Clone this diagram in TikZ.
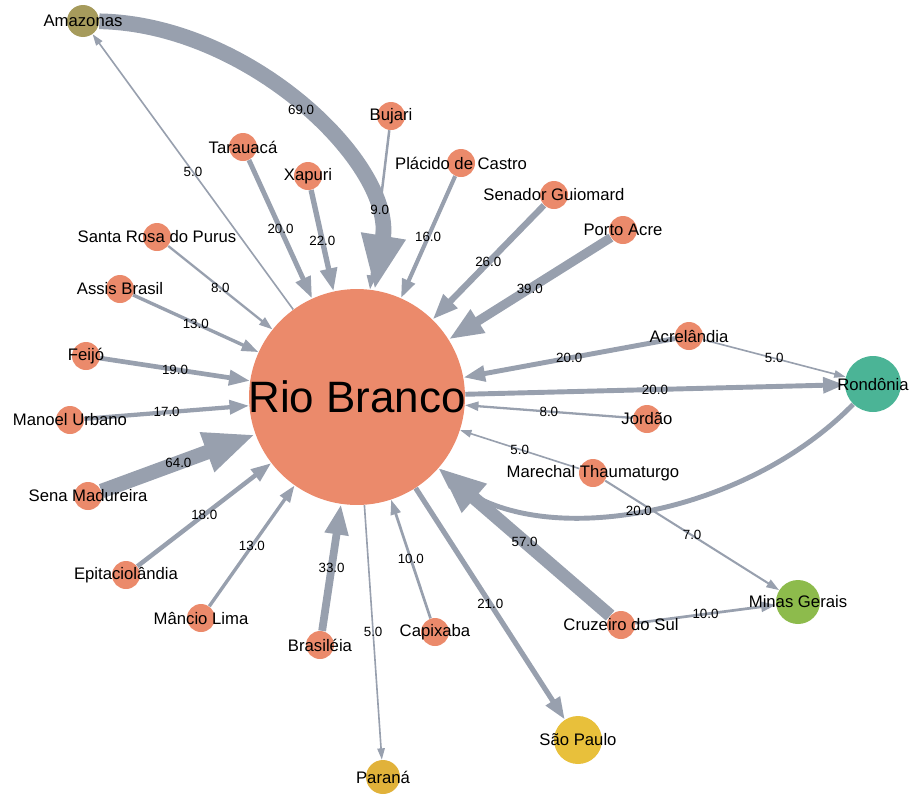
\documentclass[tikz,border=0pt]{standalone}
\usepackage{fontspec}
\setmainfont{Liberation Sans}
\usetikzlibrary{arrows.meta,backgrounds}
\definecolor{cityorange}{HTML}{EB8A6B}
\definecolor{edgegray}{HTML}{98A0AE}
\definecolor{olive}{HTML}{A69B5C}
\definecolor{teal}{HTML}{4BB496}
\definecolor{leaf}{HTML}{8DBB4C}
\definecolor{gold}{HTML}{E8C03B}
\definecolor{amber}{HTML}{E1B23A}

\begin{document}
\begin{tikzpicture}[x=0.02cm,y=-0.02cm,
  city/.style={circle,fill=#1,inner sep=0pt,minimum size=0.56cm},
  city/.default=cityorange,
  flow/.style={draw=edgegray,line width=0.3pt+0.125pt*#1,
    -{Triangle[length=3.6pt 3.1,width=2pt 2.4]}},
  wt/.style={midway,font=\fontsize{7.6}{9}\selectfont,inner sep=1pt},
  every label/.style={font=\fontsize{9.5}{11}\selectfont,inner sep=0pt}]
\useasboundingbox (0,0) rectangle (915,795);

\node[city,minimum size=4.32cm,label={[font=\fontsize{25}{30}\selectfont]center:Rio Branco}] (rb) at (357,397) {};

\node[city=olive,minimum size=0.64cm,label=center:Amazonas] (amazonas) at (83,21) {};
\node[city=teal,minimum size=1.12cm,label=center:Rondônia] (rondonia) at (873,384) {};
\node[city=leaf,minimum size=0.88cm,label=center:Minas Gerais] (minas) at (798,602) {};
\node[city=gold,minimum size=0.96cm,label=center:São Paulo] (saopaulo) at (578,740) {};
\node[city=amber,minimum size=0.68cm,label=center:Paraná] (parana) at (383,777) {};

\node[city,label=center:Bujari] (bujari) at (391,116) {};
\node[city,label=center:Tarauacá] (tarauaca) at (243,147) {};
\node[city,label=center:Xapuri] (xapuri) at (308,176) {};
\node[city,label=center:Plácido de Castro] (placido) at (461,163) {};
\node[city,label=center:Senador Guiomard] (senador) at (554,195) {};
\node[city,label=center:Porto Acre] (portoacre) at (623,230) {};
\node[city,label=center:Santa Rosa do Purus] (santarosa) at (157,237) {};
\node[city,label=center:Assis Brasil] (assis) at (120,289) {};
\node[city,label=center:Feijó] (feijo) at (86,356) {};
\node[city,label=center:Manoel Urbano] (manoel) at (70,420) {};
\node[city,label=center:Sena Madureira] (sena) at (88,496) {};
\node[city,label=center:Epitaciolândia] (epitacio) at (126,575) {};
\node[city,label=center:Mâncio Lima] (mancio) at (201,618) {};
\node[city,label=center:Brasiléia] (brasileia) at (320,645) {};
\node[city,label=center:Capixaba] (capixaba) at (435,632) {};
\node[city,label=center:Cruzeiro do Sul] (cruzeiro) at (621,625) {};
\node[city,label=center:Marechal Thaumaturgo] (marechal) at (593,473) {};
\node[city,label=center:Jordão] (jordao) at (647,419) {};
\node[city,label=center:Acrelândia] (acrelandia) at (689,336) {};

\begin{scope}[on background layer]
\draw[flow=5] (rb) -- (amazonas) node[wt] {5.0};
\draw[flow=69] (amazonas) .. controls (250,24) and (395,165) .. (rb) node[wt] {69.0};
\draw[flow=9] (bujari) -- (rb) node[wt] {9.0};
\draw[flow=20] (tarauaca) -- (rb) node[wt] {20.0};
\draw[flow=22] (xapuri) -- (rb) node[wt] {22.0};
\draw[flow=16] (placido) -- (rb) node[wt] {16.0};
\draw[flow=26] (senador) -- (rb) node[wt] {26.0};
\draw[flow=39] (portoacre) -- (rb) node[wt] {39.0};
\draw[flow=8] (santarosa) -- (rb) node[wt] {8.0};
\draw[flow=13] (assis) -- (rb) node[wt] {13.0};
\draw[flow=19] (feijo) -- (rb) node[wt] {19.0};
\draw[flow=17] (manoel) -- (rb) node[wt] {17.0};
\draw[flow=64] (sena) -- (rb) node[wt] {64.0};
\draw[flow=18] (epitacio) -- (rb) node[wt] {18.0};
\draw[flow=13] (mancio) -- (rb) node[wt] {13.0};
\draw[flow=33] (brasileia) -- (rb) node[wt] {33.0};
\draw[flow=5] (rb) -- (parana) node[wt] {5.0};
\draw[flow=10] (capixaba) -- (rb) node[wt] {10.0};
\draw[flow=21] (rb) -- (saopaulo) node[wt] {21.0};
\draw[flow=57] (cruzeiro) -- (rb) node[wt] {57.0};
\draw[flow=10] (cruzeiro) -- (minas) node[wt] {10.0};
\draw[flow=7] (marechal) -- (minas) node[wt] {7.0};
\draw[flow=5] (marechal) -- (rb) node[wt] {5.0};
\draw[flow=20] (rondonia) .. controls (740,520) and (533,551) .. (rb) node[wt] {20.0};
\draw[flow=8] (jordao) -- (rb) node[wt] {8.0};
\draw[flow=20] (rb) -- (rondonia) node[wt] {20.0};
\draw[flow=20] (acrelandia) -- (rb) node[wt] {20.0};
\draw[flow=5] (acrelandia) -- (rondonia) node[wt] {5.0};
\end{scope}
\end{tikzpicture}
\end{document}
